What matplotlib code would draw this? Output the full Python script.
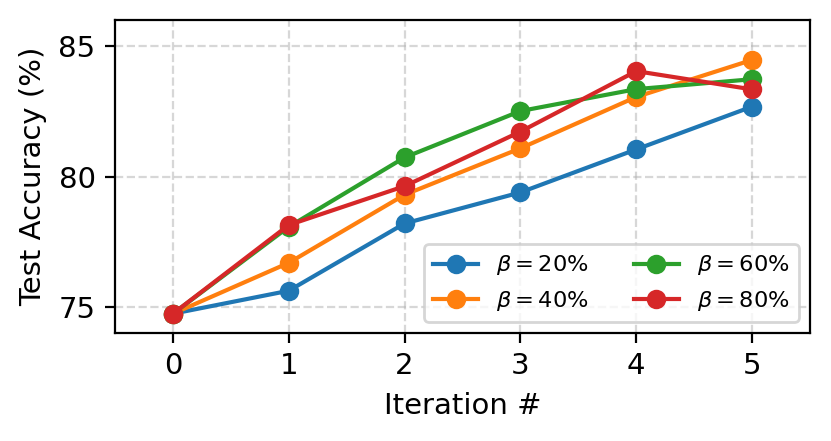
import matplotlib
matplotlib.use("Agg")
import matplotlib.pyplot as plt

iterations = [0, 1, 2, 3, 4, 5]
labels = [r"$\beta=20\%$", r"$\beta=40\%$", r"$\beta=60\%$", r"$\beta=80\%$"]
beta20 = [74.74, 75.62, 78.20, 79.39, 81.04, 82.68]
beta40 = [74.74, 76.69, 79.30, 81.08, 83.05, 84.47]
beta60 = [74.74, 78.07, 80.73, 82.51, 83.35, 83.73]
beta80 = [74.74, 78.14, 79.63, 81.72, 84.04, 83.34]
series = [beta20, beta40, beta60, beta80]

plt.rcParams['font.size'] = 10.5
fig = plt.figure(figsize=(4.155, 2.205), dpi=200)
ax = fig.add_axes([0.1384, 0.2449, 0.9747 - 0.1384, 0.9546 - 0.2449])
for vals, lab in zip(series, labels):
    ax.plot(iterations, vals, marker='o', label=lab)
ax.set_xlim(-0.5, 5.5)
ax.set_ylim(74, 86)
ax.set_xticks(iterations)
ax.set_yticks([75, 80, 85])
ax.grid(True, linestyle='--', alpha=0.5)
ax.set_xlabel("Iteration #")
ax.set_ylabel("Test Accuracy (%)")
ax.legend(loc='lower right', ncol=2, fontsize=8.1)
fig.savefig("out.png", dpi=200)
